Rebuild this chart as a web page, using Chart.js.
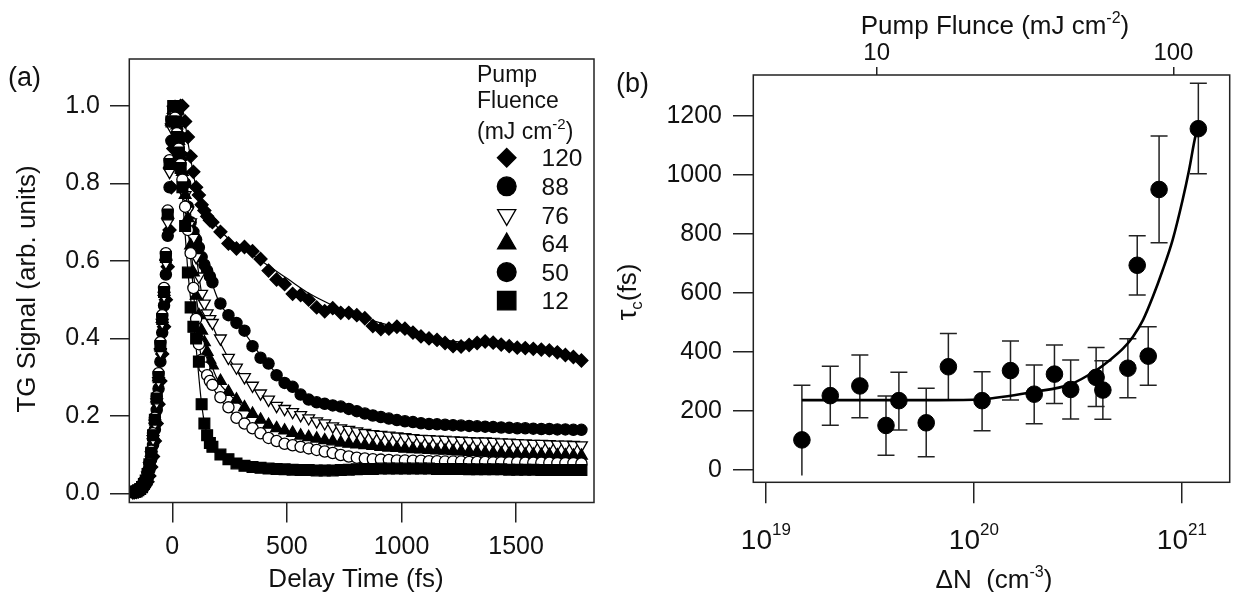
<!DOCTYPE html>
<html><head><meta charset="utf-8">
<script src="https://cdn.jsdelivr.net/npm/chart.js@4.4.0/dist/chart.umd.min.js"></script>
<style>
html,body{margin:0;padding:0;background:#fff;}
#wrap{position:relative;width:1239px;height:592px;overflow:hidden;}
#ca{position:absolute;left:0;top:0;width:612px;height:592px;}
#cb{position:absolute;left:612px;top:0;width:627px;height:592px;}
</style></head><body>
<div id="wrap"><canvas id="ca" width="612" height="592"></canvas><canvas id="cb" width="627" height="592"></canvas></div>
<script>
// ---------- Panel (a) data ----------
const delayTimes = [-172,-164,-156,-148,-140,-132,-124,-116,-108,-100,-92,-84,-76,-68,-60,-52,-44,-36,-28,-20,-12,-4,4,12,20,28,36,44,
 56,68,80,92,104,116,128,140,152,164,
 175,210,245,280,315,350,385,420,455,490,525,560,595,630,665,700,735,770,805,840,875,910,945,980,1015,1050,1085,1120,1155,1190,1225,1260,1295,1330,1365,1400,1435,1470,1505,1540,1575,1610,1645,1680,1715,1750,1785];
const tg120 = [0.003,0.003,0.004,0.005,0.007,0.01,0.015,0.022,0.03,0.045,0.068,0.095,0.135,0.18,0.23,0.29,0.36,0.43,0.50,0.585,0.68,0.79,0.89,0.95,0.98,0.995,1.0,1.0,
 0.96,0.92,0.87,0.83,0.79,0.77,0.745,0.73,0.715,0.705,
 0.70,0.675,0.645,0.632,0.636,0.625,0.605,0.575,0.552,0.54,0.515,0.512,0.50,0.48,0.47,0.478,0.466,0.466,0.46,0.452,0.432,0.424,0.425,0.43,0.425,0.415,0.405,0.40,0.396,0.388,0.38,0.379,0.383,0.388,0.392,0.389,0.384,0.38,0.376,0.375,0.373,0.371,0.369,0.364,0.357,0.352,0.343];
const tg88 = [0.003,0.003,0.005,0.007,0.009,0.013,0.019,0.028,0.04,0.06,0.088,0.125,0.165,0.215,0.27,0.34,0.415,0.485,0.565,0.665,0.79,0.91,0.98,1.0,0.99,0.96,0.92,0.87,
 0.80,0.74,0.70,0.675,0.655,0.635,0.61,0.59,0.575,0.56,
 0.545,0.49,0.46,0.44,0.42,0.38,0.35,0.335,0.305,0.285,0.275,0.255,0.242,0.235,0.231,0.227,0.224,0.218,0.212,0.206,0.201,0.197,0.193,0.189,0.186,0.184,0.181,0.179,0.178,0.177,0.176,0.175,0.174,0.173,0.172,0.171,0.17,0.169,0.168,0.168,0.167,0.166,0.166,0.165,0.165,0.164,0.164];
const tg76 = [0.003,0.004,0.005,0.007,0.01,0.015,0.022,0.031,0.046,0.07,0.098,0.14,0.18,0.235,0.29,0.365,0.44,0.51,0.595,0.70,0.83,0.945,0.99,0.97,0.94,0.90,0.86,0.82,
 0.77,0.73,0.70,0.66,0.61,0.56,0.515,0.49,0.465,0.45,
 0.44,0.40,0.35,0.325,0.30,0.278,0.258,0.242,0.226,0.218,0.21,0.202,0.194,0.186,0.181,0.173,0.168,0.164,0.16,0.156,0.153,0.151,0.149,0.147,0.145,0.143,0.141,0.14,0.139,0.138,0.137,0.136,0.135,0.134,0.134,0.133,0.132,0.131,0.13,0.129,0.128,0.128,0.127,0.126,0.126,0.125,0.124];
const tg64 = [0.003,0.004,0.005,0.008,0.011,0.016,0.024,0.033,0.05,0.075,0.105,0.15,0.19,0.245,0.30,0.38,0.45,0.52,0.61,0.72,0.85,0.96,0.99,0.98,0.95,0.91,0.87,0.83,
 0.77,0.71,0.64,0.57,0.51,0.46,0.42,0.39,0.365,0.345,
 0.33,0.29,0.262,0.242,0.222,0.205,0.19,0.177,0.168,0.162,0.156,0.149,0.145,0.141,0.137,0.134,0.131,0.128,0.126,0.124,0.122,0.12,0.118,0.117,0.115,0.114,0.113,0.112,0.111,0.11,0.109,0.108,0.107,0.106,0.105,0.104,0.103,0.102,0.101,0.1,0.1,0.099,0.099,0.098,0.098,0.097,0.097];
const tg50 = [0.003,0.004,0.006,0.008,0.012,0.017,0.025,0.035,0.052,0.078,0.11,0.155,0.195,0.25,0.31,0.39,0.46,0.53,0.62,0.73,0.86,0.965,0.995,0.97,0.93,0.89,0.85,0.81,
 0.74,0.68,0.62,0.53,0.45,0.385,0.345,0.325,0.305,0.29,
 0.28,0.248,0.222,0.195,0.18,0.168,0.155,0.143,0.135,0.128,0.124,0.12,0.116,0.112,0.108,0.104,0.099,0.095,0.092,0.09,0.088,0.087,0.086,0.085,0.085,0.084,0.084,0.083,0.083,0.082,0.082,0.082,0.081,0.081,0.081,0.08,0.08,0.08,0.08,0.079,0.079,0.079,0.079,0.078,0.078,0.078,0.077];
const tg12 = [0.003,0.004,0.005,0.008,0.011,0.016,0.024,0.033,0.05,0.075,0.105,0.15,0.19,0.245,0.30,0.38,0.45,0.52,0.61,0.72,0.85,0.96,1.0,0.96,0.92,0.88,0.84,0.79,
 0.69,0.57,0.48,0.43,0.40,0.34,0.23,0.18,0.15,0.13,
 0.12,0.10,0.088,0.077,0.071,0.068,0.066,0.064,0.063,0.062,0.061,0.06,0.06,0.059,0.059,0.059,0.06,0.061,0.062,0.063,0.063,0.064,0.064,0.064,0.064,0.064,0.064,0.064,0.063,0.063,0.063,0.063,0.062,0.062,0.062,0.062,0.062,0.061,0.061,0.061,0.061,0.06,0.06,0.06,0.06,0.06,0.06];
const fitTimes = [10,40,70,100,130,160,200,250,300,400,500,600,700,800,1000,1200,1400,1600,1785];
const fit120 = [0.93,1.0,0.90,0.80,0.745,0.715,0.685,0.655,0.635,0.595,0.555,0.515,0.485,0.46,0.425,0.395,0.385,0.37,0.343];
const fit88  = [0.96,0.95,0.76,0.66,0.61,0.565,0.50,0.455,0.425,0.345,0.285,0.245,0.228,0.215,0.188,0.178,0.171,0.167,0.164];
const fit76  = [0.96,0.90,0.72,0.63,0.51,0.455,0.40,0.345,0.305,0.245,0.214,0.19,0.174,0.162,0.146,0.138,0.133,0.128,0.124];
const fit64  = [0.95,0.88,0.70,0.53,0.41,0.35,0.29,0.255,0.228,0.185,0.162,0.146,0.135,0.127,0.116,0.11,0.105,0.1,0.097];
const fit50  = [0.97,0.85,0.68,0.47,0.34,0.295,0.25,0.215,0.185,0.148,0.128,0.116,0.104,0.095,0.085,0.082,0.08,0.079,0.077];
const fit12  = [0.995,0.80,0.56,0.40,0.22,0.135,0.098,0.082,0.072,0.065,0.062,0.06,0.059,0.061,0.064,0.063,0.062,0.061,0.06];
const fluenceLabels = ['120','88','76','64','50','12'];
const delayTicks = [0,500,1000,1500];
const signalTicks = [0,0.2,0.4,0.6,0.8,1.0];

// ---------- Panel (b) data ----------
const densityN = [1.49e19,2.04e19,2.83e19,3.78e19,4.36e19,5.9e19,7.54e19,1.095e20,1.5e20,1.95e20,2.44e20,2.92e20,3.87e20,4.17e20,5.5e20,6.1e20,6.89e20,7.77e20,1.2e21];
const tauC    = [102,252,285,151,235,160,350,235,337,257,325,273,314,271,345,694,386,951,1157];
const tauLow  = [-19,152,177,50,136,45,237,133,237,157,225,173,215,172,245,593,287,770,1004];
const tauHigh = [287,352,390,251,331,277,463,333,437,356,424,373,415,370,445,794,486,1132,1311];
const fitN   = [1.49e19,6.7e19,1.09e20,1.95e20,2.9e20,3.89e20,4.51e20,5.22e20,5.82e20,6.5e20,7.25e20,8.09e20,9.03e20,1.008e21,1.083e21,1.166e21,1.197e21];
const fitTau = [237,237,240,265,290,339,373,412,452,508,587,678,780,915,1017,1136,1157];
const densityTicks = [1e19,1e20,1e21];
const fluenceTicks = [10,100];
const tauTicks = [0,200,400,600,800,1000,1200];

// ---------- styling ----------
const FONT = "'Liberation Sans', Arial, Helvetica, sans-serif";
const INK = '#222';
const TXT = '#111';
const seriesData = [tg120, tg88, tg76, tg64, tg50, tg12];
const seriesFits = [fit120, fit88, fit76, fit64, fit50, fit12];
const seriesStyle = [
  {style:'rectRot', rot:0,   r:6.5, filled:true,  legendFilled:true,  lr:9.3},
  {style:'circle',  rot:0,   r:5.6, filled:true,  legendFilled:true,  lr:9.4},
  {style:'triangle',rot:180, r:6.8, filled:false, legendFilled:false, lr:10.5},
  {style:'triangle',rot:0,   r:6.8, filled:true,  legendFilled:true,  lr:10.5},
  {style:'circle',  rot:0,   r:5.6, filled:false, legendFilled:true,  lr:9.4},
  {style:'rect',    rot:0,   r:7.6, filled:true,  legendFilled:true,  lr:13}
];

function marker(ctx, style, x, y, r, rot, filled){
  ctx.beginPath();
  if(style==='circle'){ ctx.arc(x,y,r,0,Math.PI*2); }
  else if(style==='rect'){ const s=r*Math.SQRT1_2; ctx.rect(x-s,y-s,2*s,2*s); }
  else if(style==='rectRot'){ ctx.moveTo(x-r,y); ctx.lineTo(x,y-r); ctx.lineTo(x+r,y); ctx.lineTo(x,y+r); ctx.closePath(); }
  else if(style==='triangle'){
    let a = rot*Math.PI/180;
    for(let k=0;k<3;k++){ const px=x+Math.sin(a)*r, py=y-Math.cos(a)*r; if(k===0) ctx.moveTo(px,py); else ctx.lineTo(px,py); a+=2*Math.PI/3; }
    ctx.closePath();
  }
  ctx.fillStyle = filled ? '#000' : '#fff';
  ctx.fill();
  ctx.lineWidth = 1.3; ctx.strokeStyle = '#000'; ctx.stroke();
}

function richWidth(ctx, parts){
  let w=0; for(const p of parts){ ctx.font = `${p.size}px ${FONT}`; w += ctx.measureText(p.t).width; } return w;
}
function drawRich(ctx, parts, x, y, align){
  const w = richWidth(ctx, parts);
  let cx = align==='center' ? x - w/2 : (align==='right' ? x - w : x);
  ctx.textAlign='left'; ctx.textBaseline='alphabetic';
  for(const p of parts){ ctx.font = `${p.size}px ${FONT}`; ctx.fillText(p.t, cx, y + (p.dy||0)); cx += ctx.measureText(p.t).width; }
}

// ---------- Panel (a) ----------
const datasetsA = [];
for (let i = seriesData.length - 1; i >= 0; i--) {
  const st = seriesStyle[i];
  datasetsA.push({
    label: fluenceLabels[i],
    data: delayTimes.map((t,k)=>({x:t, y:seriesData[i][k]})),
    showLine:false, pointStyle:st.style, rotation:st.rot, pointRadius:st.r,
    pointBackgroundColor: st.filled ? '#000' : '#fff', pointBorderColor:'#000', pointBorderWidth:1.3,
    order: 1
  });
}
for (let i = 0; i < seriesFits.length; i++) {
  datasetsA.push({
    label: 'fit '+fluenceLabels[i],
    data: fitTimes.map((t,k)=>({x:t, y:seriesFits[i][k]})),
    showLine:true, pointRadius:0, borderColor:'#000', borderWidth:1.2,
    cubicInterpolationMode:'monotone', order: 2
  });
}

const panelA = {
  id:'panelA',
  afterDraw(chart){
    const {ctx, chartArea:a} = chart;
    ctx.save();
    ctx.strokeStyle=INK; ctx.lineWidth=1.5;
    ctx.strokeRect(a.left, a.top, a.right-a.left, a.bottom-a.top);
    ctx.fillStyle=TXT;
    drawRich(ctx,[{t:'(a)',size:27}], 8, 86, 'left');
    drawRich(ctx,[{t:'Delay Time (fs)',size:26}], 356, 587, 'center');
    ctx.save(); ctx.translate(35, 289); ctx.rotate(-Math.PI/2);
    drawRich(ctx,[{t:'TG Signal (arb. units)',size:26}], 0, 0, 'center');
    ctx.restore();
    // legend
    ctx.fillStyle=TXT;
    drawRich(ctx,[{t:'Pump',size:23}], 477, 82, 'left');
    drawRich(ctx,[{t:'Fluence',size:23}], 477, 108, 'left');
    drawRich(ctx,[{t:'(mJ cm',size:23},{t:'-2',size:15,dy:-10},{t:')',size:23}], 477, 139, 'left');
    seriesStyle.forEach((s,i)=>{
      const y = 157.7 + i*28.6;
      marker(ctx, s.style, 506.7, y, s.lr, s.rot, s.legendFilled);
      ctx.fillStyle=TXT;
      drawRich(ctx,[{t:fluenceLabels[i],size:24.5}], 541.5, y+8.7, 'left');
    });
    ctx.restore();
  }
};

new Chart(document.getElementById('ca'), {
  type:'scatter',
  data:{ datasets: datasetsA },
  options:{
    responsive:false, animation:false, devicePixelRatio:1,
    layout:{ padding:{ top:59, right:18, left:0, bottom:0 } },
    plugins:{ legend:{display:false}, tooltip:{enabled:false} },
    scales:{
      x:{ type:'linear', min:-187.6, max:1839.9,
          afterBuildTicks:s=>{ s.ticks = delayTicks.map(v=>({value:v})); },
          afterFit:s=>{ s.height = 89.5; },
          border:{display:false},
          grid:{drawOnChartArea:false, drawTicks:true, tickLength:20, color:INK, lineWidth:1.5},
          ticks:{font:{family:FONT,size:25}, color:TXT, padding:10, maxRotation:0, autoSkip:false, callback:v=>String(v)} },
      y:{ type:'linear', min:-0.0237, max:1.1213,
          afterBuildTicks:s=>{ s.ticks = signalTicks.map(v=>({value:v})); },
          afterFit:s=>{ s.width = 129.3; },
          border:{display:false},
          grid:{drawOnChartArea:false, drawTicks:true, tickLength:19.3, color:INK, lineWidth:1.5},
          ticks:{font:{family:FONT,size:25}, color:TXT, padding:10, autoSkip:false, callback:v=>v.toFixed(1)} }
    }
  },
  plugins:[panelA]
});

// ---------- Panel (b) ----------
const OX = 612;
const panelB = {
  id:'panelB',
  beforeDatasetsDraw(chart){
    const {ctx} = chart; const xs = chart.scales.x, ys = chart.scales.y;
    ctx.save(); ctx.strokeStyle=INK; ctx.lineWidth=1.5;
    densityN.forEach((n,i)=>{
      const px = xs.getPixelForValue(n);
      const top = ys.getPixelForValue(tauHigh[i]);
      const bot = ys.getPixelForValue(tauLow[i]);
      ctx.beginPath(); ctx.moveTo(px,top); ctx.lineTo(px,bot);
      ctx.moveTo(px-8.5,top); ctx.lineTo(px+8.5,top);
      if (tauLow[i] >= 0) { ctx.moveTo(px-8.5,bot); ctx.lineTo(px+8.5,bot); }
      ctx.stroke();
    });
    ctx.restore();
  },
  afterDraw(chart){
    const {ctx, chartArea:a} = chart; const xs = chart.scales.x, x2 = chart.scales.x2;
    ctx.save();
    ctx.strokeStyle=INK; ctx.lineWidth=1.5;
    ctx.strokeRect(a.left, a.top, a.right-a.left, a.bottom-a.top);
    ctx.fillStyle=TXT;
    densityTicks.forEach(v=>{
      const px = xs.getPixelForValue(v);
      const e = String(Math.round(Math.log10(v)));
      drawRich(ctx,[{t:'10',size:28},{t:e,size:17,dy:-14}], px, 549, 'center');
    });
    fluenceTicks.forEach(v=>{
      drawRich(ctx,[{t:String(v),size:24}], x2.getPixelForValue(v), 60, 'center');
    });
    drawRich(ctx,[{t:'\u0394N  (cm',size:26},{t:'-3',size:16,dy:-11},{t:')',size:26}], 994-OX, 588, 'center');
    drawRich(ctx,[{t:'Pump Flunce (mJ cm',size:26},{t:'-2',size:16,dy:-11},{t:')',size:26}], 995-OX, 34, 'center');
    drawRich(ctx,[{t:'(b)',size:27}], 616-OX, 92, 'left');
    ctx.save(); ctx.translate(636-OX, 292); ctx.rotate(-Math.PI/2);
    drawRich(ctx,[{t:'\u03C4',size:27},{t:'c',size:17,dy:6},{t:'(fs)',size:26}], 0, 0, 'center');
    ctx.restore();
    ctx.restore();
  }
};

new Chart(document.getElementById('cb'), {
  type:'scatter',
  data:{ datasets:[
    { label:'tau', data: densityN.map((n,i)=>({x:n, y:tauC[i]})), showLine:false,
      pointStyle:'circle', pointRadius:8.3, pointBackgroundColor:'#000', pointBorderColor:'#000', pointBorderWidth:1, order:1 },
    { label:'fit', data: fitN.map((n,i)=>({x:n, y:fitTau[i]})), showLine:true, pointRadius:0,
      borderColor:'#000', borderWidth:2.6, cubicInterpolationMode:'monotone', order:2 }
  ]},
  options:{
    responsive:false, animation:false, devicePixelRatio:1,
    layout:{ padding:{ top:0, right:4.7, left:0, bottom:0 } },
    plugins:{ legend:{display:false}, tooltip:{enabled:false} },
    scales:{
      x:{ type:'logarithmic', position:'bottom', min:8.70e18, max:1.698e21,
          afterBuildTicks:s=>{ s.ticks = densityTicks.map(v=>({value:v})); },
          afterFit:s=>{ s.height = 109.7; },
          border:{display:false},
          grid:{drawOnChartArea:false, drawTicks:true, tickLength:21, color:INK, lineWidth:1.5},
          ticks:{display:true, callback:()=>'', autoSkip:false, maxRotation:0} },
      x2:{ type:'logarithmic', position:'top', min:3.837, max:154.8,
          afterBuildTicks:s=>{ s.ticks = fluenceTicks.map(v=>({value:v})); },
          afterFit:s=>{ s.height = 75; },
          border:{display:false},
          grid:{drawOnChartArea:false, drawTicks:true, tickLength:8, color:INK, lineWidth:1.5},
          ticks:{display:true, callback:()=>'', autoSkip:false, maxRotation:0} },
      y:{ type:'linear', min:-41.7, max:1339,
          afterBuildTicks:s=>{ s.ticks = tauTicks.map(v=>({value:v})); },
          afterFit:s=>{ s.width = 141.3; },
          border:{display:false},
          grid:{drawOnChartArea:false, drawTicks:true, tickLength:20.3, color:INK, lineWidth:1.5},
          ticks:{font:{family:FONT,size:25}, color:TXT, padding:11, autoSkip:false, callback:v=>String(v)} }
    }
  },
  plugins:[panelB]
});
</script>
</body></html>
